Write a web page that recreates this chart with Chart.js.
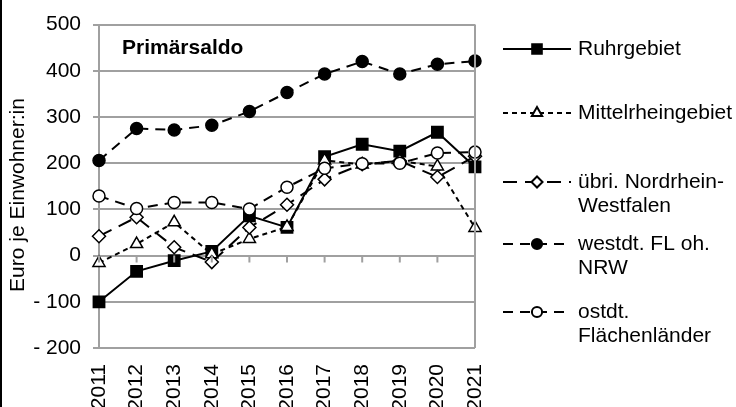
<!DOCTYPE html>
<html>
<head>
<meta charset="utf-8">
<script src="https://cdn.jsdelivr.net/npm/chart.js@4/dist/chart.umd.min.js"></script>
<style>
  html, body { margin: 0; padding: 0; background: #fff; }
  #wrap { width: 736px; height: 407px; }
</style>
</head>
<body>
<div id="wrap"><canvas id="myChart"></canvas></div>
<script>
// Primärsaldo, Euro je Einwohner:in
const years = ['2011', '2012', '2013', '2014', '2015', '2016', '2017', '2018', '2019', '2020', '2021'];
const ruhr = [-100, -34, -11, 9, 86, 61, 214, 241, 226, 267, 192];
const mittelrhein = [-16, 25, 72, 3, 36, 62, 206, 197, 205, 193, 60];
const uebrNrw = [42, 83, 18, -14, 61, 110, 165, 198, 205, 170, 215];
const westdt = [206, 275, 272, 282, 312, 353, 393, 420, 393, 414, 421];
const ostdt = [129, 102, 115, 115, 101, 148, 189, 199, 200, 222, 224];
const yTicks = [-200, -100, 0, 100, 200, 300, 400, 500];

const legendLabels = [
  ['Ruhrgebiet'],
  ['Mittelrheingebiet'],
  ['übri. Nordrhein-', 'Westfalen'],
  ['westdt. FL oh.', 'NRW'],
  ['ostdt.', 'Flächenländer']
];
const legendY = [49, 113, 182, 244, 312];

const FONT = '"Liberation Sans", Arial, sans-serif';
const GRID = '#a0a0a0';

function fmt(v) {
  return v < 0 ? '- ' + Math.abs(v) : String(v);
}

const extras = {
  id: 'extras',
  afterDraw(chart) {
    const c = chart.ctx;
    const a = chart.chartArea;
    const x = chart.scales.x, y = chart.scales.y;
    c.save();
    // right border of plot
    c.strokeStyle = GRID;
    c.lineWidth = 2;
    c.beginPath();
    c.moveTo(a.right, a.top);
    c.lineTo(a.right, a.bottom);
    c.stroke();
    // category tick marks on the zero line
    const y0 = y.getPixelForValue(0);
    c.beginPath();
    for (let i = 0; i < years.length; i++) {
      const px = x.getPixelForValue(i);
      c.moveTo(px, y0);
      c.lineTo(px, y0 + 7);
    }
    c.stroke();
    // left edge line of the image
    c.fillStyle = '#000';
    c.fillRect(0, 0, 2, chart.height);
    // y title
    c.fillStyle = '#000';
    c.font = '21px ' + FONT;
    c.textAlign = 'center';
    c.textBaseline = 'middle';
    c.translate(18, 195);
    c.rotate(-Math.PI / 2);
    c.fillText('Euro je Einwohner:in', 0, 0);
    c.restore();

    c.save();
    // inner title
    c.fillStyle = '#000';
    c.font = 'bold 21px ' + FONT;
    c.textBaseline = 'middle';
    c.fillText('Primärsaldo', a.left + 23, a.top + 24);
    // legend
    chart.data.datasets.forEach((ds, i) => {
      const ly = legendY[i];
      c.strokeStyle = '#000';
      c.lineWidth = ds.borderWidth;
      c.setLineDash(ds.borderDash || []);
      c.beginPath();
      c.moveTo(503, ly);
      c.lineTo(571, ly);
      c.stroke();
      c.setLineDash([]);
      c.fillStyle = ds.pointBackgroundColor;
      c.strokeStyle = '#000';
      Chart.helpers.drawPoint(c, {
        pointStyle: ds.pointStyle,
        radius: ds.pointRadius * 0.85,
        rotation: 0,
        borderWidth: ds.pointBorderWidth
      }, 537, ly);
      c.fillStyle = '#000';
      c.font = '21px ' + FONT;
      c.textAlign = 'left';
      c.textBaseline = 'middle';
      legendLabels[i].forEach((t, j) => c.fillText(t, 578, ly + j * 24));
    });
    c.restore();
  }
};

function series(label, data, dash, style, radius, fill, order) {
  return {
    label: label,
    data: data,
    borderColor: '#000',
    borderWidth: 2,
    borderDash: dash,
    pointStyle: style,
    pointRadius: radius,
    pointHoverRadius: radius,
    pointBackgroundColor: fill,
    pointBorderColor: '#000',
    pointBorderWidth: 1.5,
    tension: 0,
    fill: false,
    order: order
  };
}

const ctx = document.getElementById('myChart').getContext('2d');
const myChart = new Chart(ctx, {
  type: 'line',
  data: {
    labels: years,
    datasets: [
      series('Ruhrgebiet', ruhr, [], 'rect', 8, '#000', 5),
      series('Mittelrheingebiet', mittelrhein, [5, 4], 'triangle', 7, '#fff', 4),
      series('übri. Nordrhein-Westfalen', uebrNrw, [14, 8], 'rectRot', 6.5, '#fff', 3),
      series('westdt. FL oh. NRW', westdt, [10, 7], 'circle', 6, '#000', 2),
      series('ostdt. Flächenländer', ostdt, [10, 7], 'circle', 6, '#fff', 1)
    ]
  },
  options: {
    responsive: true,
    maintainAspectRatio: false,
    animation: false,
    layout: { padding: { left: 0, right: 261, top: 22, bottom: 0 } },
    plugins: {
      legend: { display: false },
      tooltip: { enabled: false }
    },
    scales: {
      x: {
        offset: false,
        grid: { display: false, drawTicks: false },
        border: { display: false },
        ticks: {
          minRotation: 90,
          maxRotation: 90,
          padding: 16,
          color: '#000',
          font: { family: FONT, size: 21 }
        },
        afterFit(s) { s.height = 59; }
      },
      y: {
        min: -200,
        max: 500,
        afterBuildTicks(s) { s.ticks = yTicks.map(v => ({ value: v })); },
        grid: { color: GRID, lineWidth: 2, tickLength: 6, tickColor: GRID },
        border: { color: GRID, width: 2 },
        ticks: {
          padding: 12,
          color: '#000',
          font: { family: FONT, size: 21 },
          callback: v => fmt(v)
        },
        afterFit(s) { s.width = 99; }
      }
    }
  },
  plugins: [extras]
});
</script>
</body>
</html>
